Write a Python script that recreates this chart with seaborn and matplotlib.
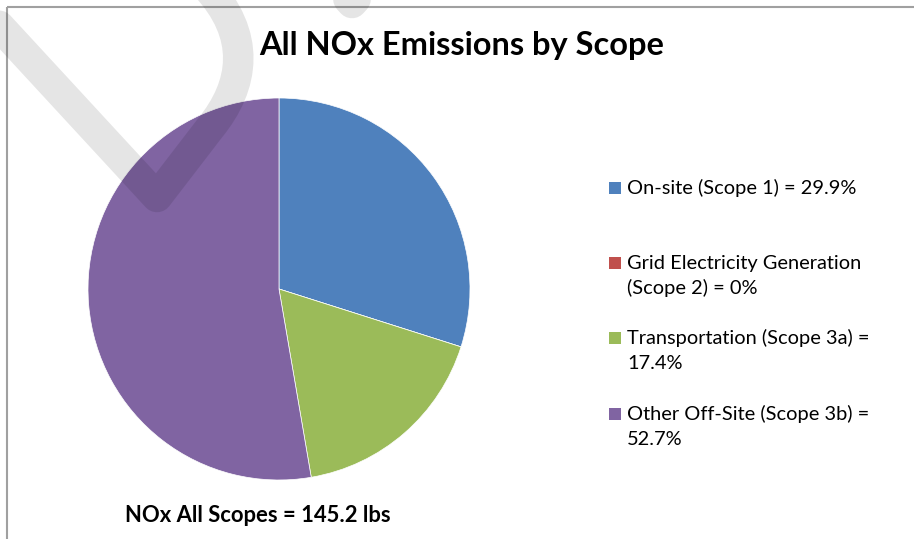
import matplotlib.pyplot as plt
from matplotlib.patches import Rectangle, PathPatch
from matplotlib.path import Path
import seaborn as sns

# data
categories = ["On-site (Scope 1)", "Grid Electricity Generation (Scope 2)",
              "Transportation (Scope 3a)", "Other Off-Site (Scope 3b)"]
shares = [29.9, 0, 17.4, 52.7]
legend_labels = [
    "On-site (Scope 1) = 29.9%",
    "Grid Electricity Generation\n(Scope 2) = 0%",
    "Transportation (Scope 3a) =\n17.4%",
    "Other Off-Site (Scope 3b) =\n52.7%",
]
colors = ["#4F81BD", "#C0504D", "#9BBB59", "#8064A2"]
total_lbs = 145.2
title = "All NOx Emissions by Scope"

sns.set_theme(style="white")
plt.rcParams["font.family"] = ["Lato", "DejaVu Sans"]

W, H = 914, 539
fig = plt.figure(figsize=(W / 100, H / 100), dpi=100)
fig.patch.set_facecolor("white")


def frac(x0, y0, x1, y1):
    return [x0 / W, 1 - y1 / H, (x1 - x0) / W, (y1 - y0) / H]


# pie
ax = fig.add_axes(frac(88, 98, 470, 480))
ax.pie(shares, colors=colors, startangle=90, counterclock=False, radius=1,
       wedgeprops=dict(edgecolor="white", linewidth=0.5))
ax.set_xlim(-1, 1)
ax.set_ylim(-1, 1)
ax.axis("off")

# overlay in pixel coords for text, legend, border, watermark
ov = fig.add_axes([0, 0, 1, 1], zorder=5)
ov.set_xlim(0, W)
ov.set_ylim(H, 0)
ov.axis("off")
ov.patch.set_alpha(0)

# chart border
ov.add_patch(Rectangle((7, 7), W + 50, H + 50, fill=False,
                       edgecolor="#a0a0a0", linewidth=1.5, zorder=1))

ov.text(462, 55, title, ha="center", va="baseline", fontsize=23.4,
        fontweight="bold", color="black")
ov.text(258, 522, f"NOx All Scopes = {total_lbs} lbs", ha="center",
        va="baseline", fontsize=15.8, fontweight="bold", color="black")

# legend, one text per line so the swatch sits on the first line
for i, (lab, col) in enumerate(zip(legend_labels, colors)):
    y = 194 + i * 75.2
    ov.add_patch(Rectangle((609, y - 12), 12, 12, facecolor=col,
                           edgecolor="none"))
    for k, line in enumerate(lab.split("\n")):
        ov.text(627, y + k * 25, line, ha="left", va="baseline",
                fontsize=14.4, color="black")

# watermark strokes
wm = Path([(-10, 16), (157, 197), (210, 128), (245, 85), (252, 35), (205, -15)],
          [Path.MOVETO, Path.LINETO, Path.LINETO, Path.CURVE4, Path.CURVE4, Path.CURVE4])
ov.add_patch(PathPatch(wm, fill=False, edgecolor=(0, 0, 0, 0.1), linewidth=22,
                       capstyle="round", joinstyle="round", zorder=3))
wm2 = Path([(322, -30), (352, 3), (382, -30)],
           [Path.MOVETO, Path.LINETO, Path.LINETO])
ov.add_patch(PathPatch(wm2, fill=False, edgecolor=(0, 0, 0, 0.1), linewidth=22,
                       capstyle="round", joinstyle="round", zorder=3))

fig.savefig("out.png", dpi=100)
